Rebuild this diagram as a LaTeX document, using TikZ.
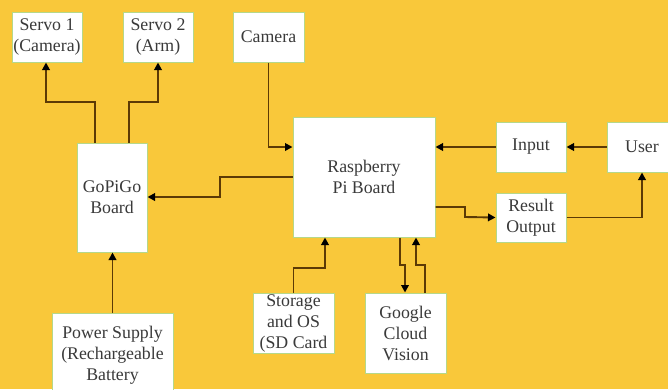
\documentclass[tikz,border=0pt]{standalone}
\usepackage{fontspec}
\setmainfont{Liberation Serif}
\usetikzlibrary{arrows.meta}
\definecolor{bg}{HTML}{F9C83A}
\definecolor{edge}{HTML}{B5D88A}
\definecolor{wire}{HTML}{5C3A05}
\definecolor{txt}{HTML}{3A3A3A}
\tikzset{
  box/.style={draw=edge, line width=1pt, fill=white, align=center, inner sep=0pt,
    text=txt, font=\fontsize{17.8}{21}\selectfont},
  wirestyle/.style={draw=wire, line width=1.9pt, -{Triangle[length=7.5pt,width=7.5pt,color=black]}}
}
\begin{document}
\begin{tikzpicture}[x=1pt,y=-1pt]
\fill[bg] (0,0) rectangle (668,389);
\useasboundingbox (0,0) rectangle (668,389);
\clip (0,0) rectangle (668,389);
% boxes
\node[box, minimum width=70, minimum height=50] (s1) at (47,37) {Servo 1\\(Camera)};
\node[box, minimum width=70, minimum height=50] (s2) at (158,37) {Servo 2\\(Arm)};
\node[box, minimum width=71, minimum height=50] (cam) at (268.5,37) {Camera};
\node[box, minimum width=70, minimum height=109] (gpg) at (112,197.5) {GoPiGo\\Board};
\node[box, minimum width=142, minimum height=120] (rpi) at (364,177) {Raspberry\\Pi Board};
\node[box, minimum width=70, minimum height=50] (inp) at (531,147) {Input};
\node[box, minimum width=70, minimum height=50] (usr) at (642,147) {User};
\node[box, minimum width=70, minimum height=49] (res) at (531,217.5) {Result\\Output};
\node[box, minimum width=81, minimum height=60] (sto) at (293.5,323) {Storage\\and OS\\(SD Card};
\node[box, minimum width=81, minimum height=80] (gcv) at (405.5,333) {Google\\Cloud\\Vision};
\node[box, minimum width=121, minimum height=84] (pwr) at (112.5,355) {Power Supply\\(Rechargeable\\Battery};
% connectors
\draw[wirestyle] (gpg.north -| 95,0) |- (46,102) -- (s1.south -| 46,0);
\draw[wirestyle] (gpg.north -| 129,0) |- (158,102) -- (s2.south);
\draw[wirestyle] (cam.south) |- (rpi.west |- 0,147);
\draw[wirestyle] (rpi.west |- 0,177) -| (220,197) -- (gpg.east |- 0,197);
\draw[wirestyle] (inp.west) -- (rpi.east |- inp.west);
\draw[wirestyle] (usr.west) -- (inp.east);
\draw[wirestyle] (rpi.east |- 0,207) -| (465,217) -- (res.west);
\draw[wirestyle] (res.east) -| (usr.south);
\draw[wirestyle] (sto.north) |- (325,268) -- (rpi.south -| 325,0);
\draw[wirestyle] (rpi.south -| 400,0) |- (405,265) -- (gcv.north -| 405,0);
\draw[wirestyle] (gcv.north -| 425,0) |- (416,265) -- (rpi.south -| 416,0);
\draw[wirestyle] (pwr.north) -- (gpg.south -| pwr.north);
\end{tikzpicture}
\end{document}
